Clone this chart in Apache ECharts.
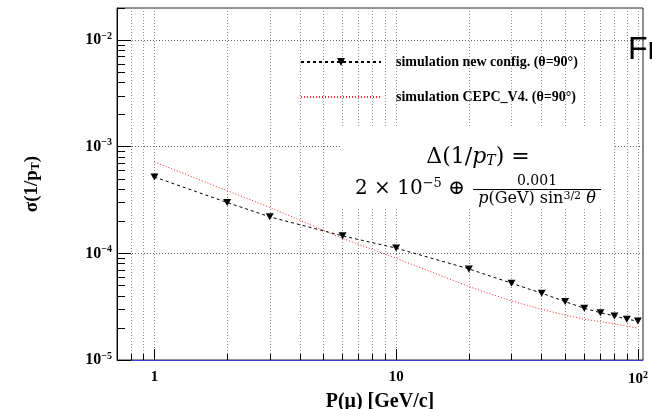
<!DOCTYPE html>
<html><head><meta charset="utf-8">
<script src="https://cdn.jsdelivr.net/npm/echarts@6/dist/echarts.min.js"></script>
<style>html,body{margin:0;padding:0;background:#fff}#c{width:652px;height:409px}</style>
</head><body><div id="c"></div>
<script>
// ---- data ----
const momentum = [1, 2, 3, 6, 10, 20, 30, 40, 50, 60, 70, 80, 90, 100];
const newConfig = [5.2e-4, 3.0e-4, 2.2e-4, 1.46e-4, 1.12e-4, 7.15e-5, 5.25e-5, 4.23e-5, 3.53e-5, 3.05e-5, 2.78e-5, 2.59e-5, 2.41e-5, 2.32e-5];
const cepcV4 = [7.2e-4, 3.87e-4, 2.7e-4, 1.38e-4, 9.0e-5, 4.88e-5, 3.58e-5, 2.99e-5, 2.64e-5, 2.41e-5, 2.29e-5, 2.18e-5, 2.08e-5, 1.99e-5];
const seriesNames = ['simulation new config. (θ=90°)', 'simulation CEPC_V4. (θ=90°)'];
const xMajorTicks = [1, 10, 100];
const xAllTicks = [0.8, 0.9, 1, 2, 3, 4, 5, 6, 7, 8, 9, 10, 20, 30, 40, 50, 60, 70, 80, 90, 100];
const yMajorTicks = [1e-5, 1e-4, 1e-3, 1e-2];
const yMinorTicks = [2e-5, 3e-5, 4e-5, 5e-5, 6e-5, 7e-5, 8e-5, 9e-5,
                     2e-4, 3e-4, 4e-4, 5e-4, 6e-4, 7e-4, 8e-4, 9e-4,
                     2e-3, 3e-3, 4e-3, 5e-3, 6e-3, 7e-3, 8e-3, 9e-3, 2e-2];
const xTitle = 'P(μ) [GeV/c]';
const sideText = 'Fr';

const SERIF = '"Liberation Serif", "DejaVu Serif", serif';
const MATH = '"DejaVu Serif", "Liberation Serif", serif';
const X_MIN = 0.7, X_MAX = 105, Y_MIN = 1e-5, Y_MAX = 0.02;

function zip(xs, ys) { return xs.map((x, i) => [x, ys[i]]); }

const chart = echarts.init(document.getElementById('c'), null, { renderer: 'canvas' });
const xRich = {
  sup: { fontFamily: SERIF, fontWeight: 'bold', fontSize: 10, color: '#000', padding: [0, 0, 8, 0] },
  n: { fontFamily: SERIF, fontWeight: 'bold', fontSize: 15, color: '#000' }
};
const yRich = {
  sup: { fontFamily: SERIF, fontWeight: 'bold', fontSize: 10, color: '#000', padding: [0, 0, 8, 0] },
  n: { fontFamily: SERIF, fontWeight: 'bold', fontSize: 16, color: '#000' }
};

chart.setOption({
  animation: false,
  backgroundColor: '#fff',
  grid: { left: 117, right: 9, top: 8, bottom: 49, show: true, borderColor: '#222', borderWidth: 1, backgroundColor: '#fff', containLabel: false, outerBoundsMode: 'none' },
  legend: {
    orient: 'vertical', left: 295, top: 50, itemWidth: 80, itemHeight: 10, itemGap: 21,
    data: [
      { name: seriesNames[0] },
      { name: seriesNames[1], itemStyle: { opacity: 0 } }
    ],
    textStyle: { fontFamily: SERIF, fontWeight: 'bold', fontSize: 14, color: '#000', padding: [0, 0, 0, 10] }
  },
  xAxis: [
    {
      type: 'log', logBase: 10, min: X_MIN, max: X_MAX, position: 'bottom',
      axisLine: { show: true, onZero: false, lineStyle: { color: '#3c3cd8', width: 1 } },
      axisTick: { show: true, inside: true, length: 6, customValues: xAllTicks, lineStyle: { color: '#000' } },
      minorTick: { show: false },
      splitLine: { show: true, lineStyle: { color: '#8c8c8c', type: [1, 2], width: 1 } },
      axisLabel: {
        customValues: xMajorTicks, margin: 10,
        formatter: v => v >= 100 ? '{n|10}{sup|' + Math.round(Math.log10(v)) + '}' : '{n|' + v + '}',
        rich: xRich
      },
      name: xTitle, nameLocation: 'middle', nameGap: 29,
      nameTextStyle: { fontFamily: SERIF, fontWeight: 'bold', fontSize: 20, color: '#000' }
    },
    {
      type: 'log', logBase: 10, min: X_MIN, max: X_MAX, position: 'bottom',
      axisLine: { show: false },
      axisTick: { show: true, inside: true, length: 11, customValues: xMajorTicks, lineStyle: { color: '#000' } },
      splitLine: { show: false }, axisLabel: { show: false }
    }
  ],
  yAxis: [
    {
      type: 'log', logBase: 10, min: Y_MIN, max: Y_MAX, position: 'left',
      axisLine: { show: true, onZero: false, lineStyle: { color: '#000', width: 1 } },
      axisTick: { show: true, inside: true, length: 8, customValues: yMinorTicks, lineStyle: { color: '#000' } },
      splitLine: { show: false }, axisLabel: { show: false }
    },
    {
      type: 'log', logBase: 10, min: Y_MIN, max: Y_MAX, position: 'left',
      axisLine: { show: false },
      axisTick: { show: true, inside: true, length: 14, customValues: yMajorTicks, lineStyle: { color: '#000' } },
      splitLine: { show: true, lineStyle: { color: '#666', type: [1, 2], width: 1 } },
      axisLabel: {
        customValues: yMajorTicks, margin: 5,
        formatter: v => '{n|10}{sup|−' + Math.round(-Math.log10(v)) + '}',
        rich: yRich
      },
      name: '{a|σ(1/p}{s|T}{a|)}', nameLocation: 'middle', nameRotate: 90, nameGap: 75,
      nameTextStyle: {
        rich: {
          a: { fontFamily: SERIF, fontWeight: 'bold', fontSize: 19, color: '#000' },
          s: { fontFamily: SERIF, fontWeight: 'bold', fontSize: 12, color: '#000', padding: [8, 0, 0, 0] }
        }
      }
    }
  ],
  series: [
    {
      name: seriesNames[0], type: 'line', xAxisIndex: 0, yAxisIndex: 0,
      data: zip(momentum, newConfig),
      symbol: 'path://M0,0 L10,0 L5,9 Z', symbolSize: [8, 7],
      itemStyle: { color: '#000' },
      lineStyle: { color: '#000', width: 1, type: [3, 3] },
      z: 5
    },
    {
      name: seriesNames[1], type: 'line', xAxisIndex: 0, yAxisIndex: 0,
      data: zip(momentum, cepcV4),
      symbol: 'none', showSymbol: false,
      itemStyle: { color: '#ff0000' },
      lineStyle: { color: '#ff2020', width: 1, type: [1, 2] },
      z: 4
    }
  ],
  graphic: [
    { type: 'rect', z: 100, shape: { x: 342, y: 128, width: 271, height: 80 }, style: { fill: '#fff' } },
    {
      type: 'text', z: 101, x: 478, y: 157,
      style: {
        text: '{n|Δ(1/}{i|p}{s|T}{n|) =}', align: 'center', verticalAlign: 'middle',
        rich: {
          n: { fontFamily: MATH, fontSize: 22, fill: '#000' },
          i: { fontFamily: MATH, fontStyle: 'italic', fontSize: 22, fill: '#000' },
          s: { fontFamily: MATH, fontStyle: 'italic', fontSize: 14, fill: '#000', padding: [9, 0, 0, 0] }
        }
      }
    },
    {
      type: 'text', z: 101, x: 355, y: 189,
      style: {
        text: '{n|2 × 10}{sup|−5}{n| ⊕}', align: 'left', verticalAlign: 'middle',
        rich: {
          n: { fontFamily: MATH, fontSize: 20, fill: '#000' },
          sup: { fontFamily: MATH, fontSize: 13, fill: '#000', padding: [0, 0, 10, 0] }
        }
      }
    },
    {
      type: 'text', z: 101, x: 537, y: 181,
      style: { text: '0.001', align: 'center', verticalAlign: 'middle', font: '14px ' + MATH, fill: '#000' }
    },
    { type: 'line', z: 101, shape: { x1: 473, y1: 189.5, x2: 601, y2: 189.5 }, style: { stroke: '#000', lineWidth: 1 } },
    {
      type: 'text', z: 101, x: 537, y: 199,
      style: {
        text: '{i|p}{d|(GeV) sin}{sup|3/2}{i| θ}', align: 'center', verticalAlign: 'middle',
        rich: {
          i: { fontFamily: MATH, fontStyle: 'italic', fontSize: 16, fill: '#000' },
          d: { fontFamily: MATH, fontSize: 16, fill: '#000' },
          sup: { fontFamily: MATH, fontSize: 11, fill: '#000', padding: [0, 0, 6, 0] }
        }
      }
    },
    {
      type: 'text', z: 101, x: 628, y: 50,
      style: { text: sideText, align: 'left', verticalAlign: 'middle', font: '32px "Liberation Sans", Arial, sans-serif', fill: '#000' }
    }
  ]
});
</script>
</body></html>
